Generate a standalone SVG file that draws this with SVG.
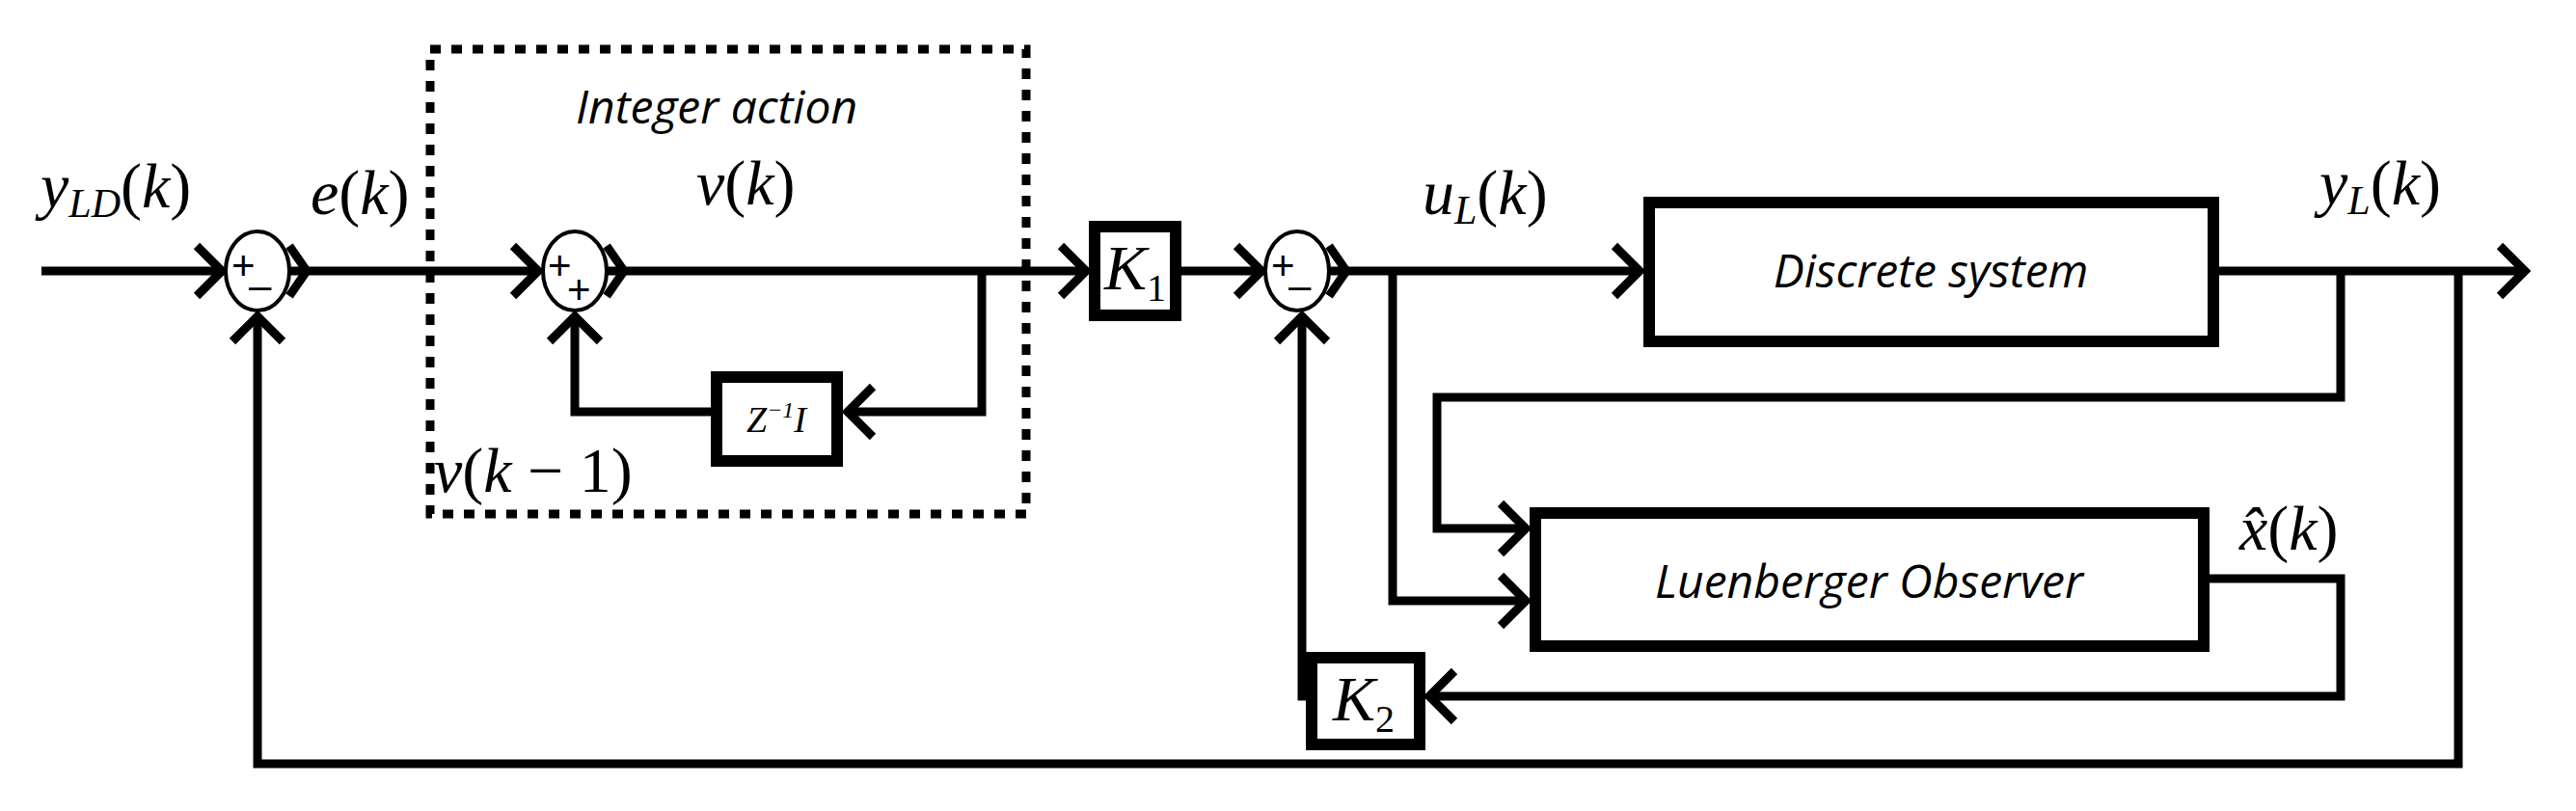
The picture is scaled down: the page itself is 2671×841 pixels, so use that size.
<svg xmlns="http://www.w3.org/2000/svg" width="2671" height="841" viewBox="0 0 2671 841">
<style>
.w{fill:none;stroke:#000;stroke-width:9;stroke-linejoin:miter}
.b{fill:#fff;stroke:#000;stroke-width:12}
.s{fill:#fff;stroke:#000;stroke-width:4}
.m{font-family:"Liberation Serif",serif;font-style:italic;font-size:66px}
.t{font-family:"Open Sans","Liberation Sans",sans-serif;font-style:italic;font-size:48px}
.p{font-family:"Liberation Sans",sans-serif;font-size:42px}
</style>
<defs>
<marker id="a" viewBox="0 0 20 20" refX="18" refY="10" markerWidth="20" markerHeight="20" markerUnits="userSpaceOnUse" orient="auto" style="overflow:visible">
<path d="M-10,-16 L16,10 L-10,36" fill="none" stroke="#000" stroke-width="9"/>
</marker>
</defs>
<rect width="2671" height="841" fill="#fff"/>
<g id="integer-action-box">
<rect x="446" y="51" width="618" height="482" fill="none" stroke="#000" stroke-width="9" stroke-dasharray="11,11"/>
<text class="t" x="597" y="128">Integer action</text>
</g>
<g id="connectors">
<path class="w" d="M43,281 H232" marker-end="url(#a)"/>
<path class="w" d="M300,281 H560" marker-end="url(#a)"/>
<path class="w" d="M630,281 H1128" marker-end="url(#a)"/>
<path class="w" d="M1018,281 V427 H877" marker-end="url(#a)"/>
<path class="w" d="M737,427 H596 V326" marker-end="url(#a)"/>
<path class="w" d="M1223,281 H1310" marker-end="url(#a)"/>
<path class="w" d="M1378,281 H1702" marker-end="url(#a)"/>
<path class="w" d="M1444,281 V623 H1584" marker-end="url(#a)"/>
<path class="w" d="M2299,281 H2620" marker-end="url(#a)"/>
<path class="w" d="M2427,281 V412 H1490 V548 H1584" marker-end="url(#a)"/>
<path class="w" d="M2290,600 H2427 V722 H1480" marker-end="url(#a)"/>
<path class="w" d="M1354,722 H1350 V326" marker-end="url(#a)"/>
<path class="w" d="M2549,281 V792 H267 V326" marker-end="url(#a)"/>
</g>
<g id="sum1">
<ellipse class="s" cx="267" cy="281" rx="33" ry="41"/>
<path class="w" d="M300,255 L318,281 L300,307" stroke-width="7"/>
<text class="p" x="240" y="290">+</text><text class="p" x="258" y="310">–</text>
</g>
<g id="sum2">
<ellipse class="s" cx="596" cy="281" rx="33" ry="41"/>
<path class="w" d="M629,255 L647,281 L629,307" stroke-width="7"/>
<text class="p" x="568" y="290">+</text><text class="p" x="588" y="315">+</text>
</g>
<g id="sum3">
<ellipse class="s" cx="1345" cy="281" rx="33" ry="41"/>
<path class="w" d="M1378,255 L1396,281 L1378,307" stroke-width="7"/>
<text class="p" x="1318" y="290">+</text><text class="p" x="1336" y="310">–</text>
</g>
<g id="z-delay">
<rect class="b" x="743" y="391" width="125" height="87"/>
<text x="805" y="448" text-anchor="middle" font-family="Liberation Serif,serif" font-style="italic" font-size="38">Z<tspan font-size="24" dy="-15">−1</tspan><tspan dy="15">I</tspan></text>
</g>
<g id="k1">
<rect class="b" x="1135" y="235" width="84" height="92"/>
<text class="m" x="1177" y="300" text-anchor="middle">K<tspan font-size="40" font-style="normal" dy="12">1</tspan></text>
</g>
<g id="k2">
<rect class="b" x="1360" y="682" width="112" height="90"/>
<text class="m" x="1414" y="747" text-anchor="middle">K<tspan font-size="40" font-style="normal" dy="12">2</tspan></text>
</g>
<g id="discrete-system">
<rect class="b" x="1710" y="210" width="585" height="144"/>
<text class="t" x="2002" y="298" text-anchor="middle">Discrete system</text>
</g>
<g id="observer">
<rect class="b" x="1592" y="532" width="693" height="138"/>
<text class="t" x="1938" y="620" text-anchor="middle">Luenberger Observer</text>
</g>
<g id="labels">
<text class="m" x="42" y="215">y<tspan font-size="42" dy="10">LD</tspan><tspan dy="-10" font-style="normal">(</tspan>k<tspan font-style="normal">)</tspan></text>
<text class="m" x="322" y="222">e<tspan font-style="normal">(</tspan>k<tspan font-style="normal">)</tspan></text>
<text class="m" x="722" y="212">v<tspan font-style="normal">(</tspan>k<tspan font-style="normal">)</tspan></text>
<text class="m" x="450" y="510">v<tspan font-style="normal">(</tspan>k <tspan font-style="normal">− 1)</tspan></text>
<text class="m" x="1475" y="222">u<tspan font-size="42" dy="10">L</tspan><tspan dy="-10" font-style="normal">(</tspan>k<tspan font-style="normal">)</tspan></text>
<text class="m" x="2405" y="212">y<tspan font-size="42" dy="10">L</tspan><tspan dy="-10" font-style="normal">(</tspan>k<tspan font-style="normal">)</tspan></text>
<text class="m" x="2322" y="570">x̂<tspan font-style="normal">(</tspan>k<tspan font-style="normal">)</tspan></text>
</g>
</svg>
